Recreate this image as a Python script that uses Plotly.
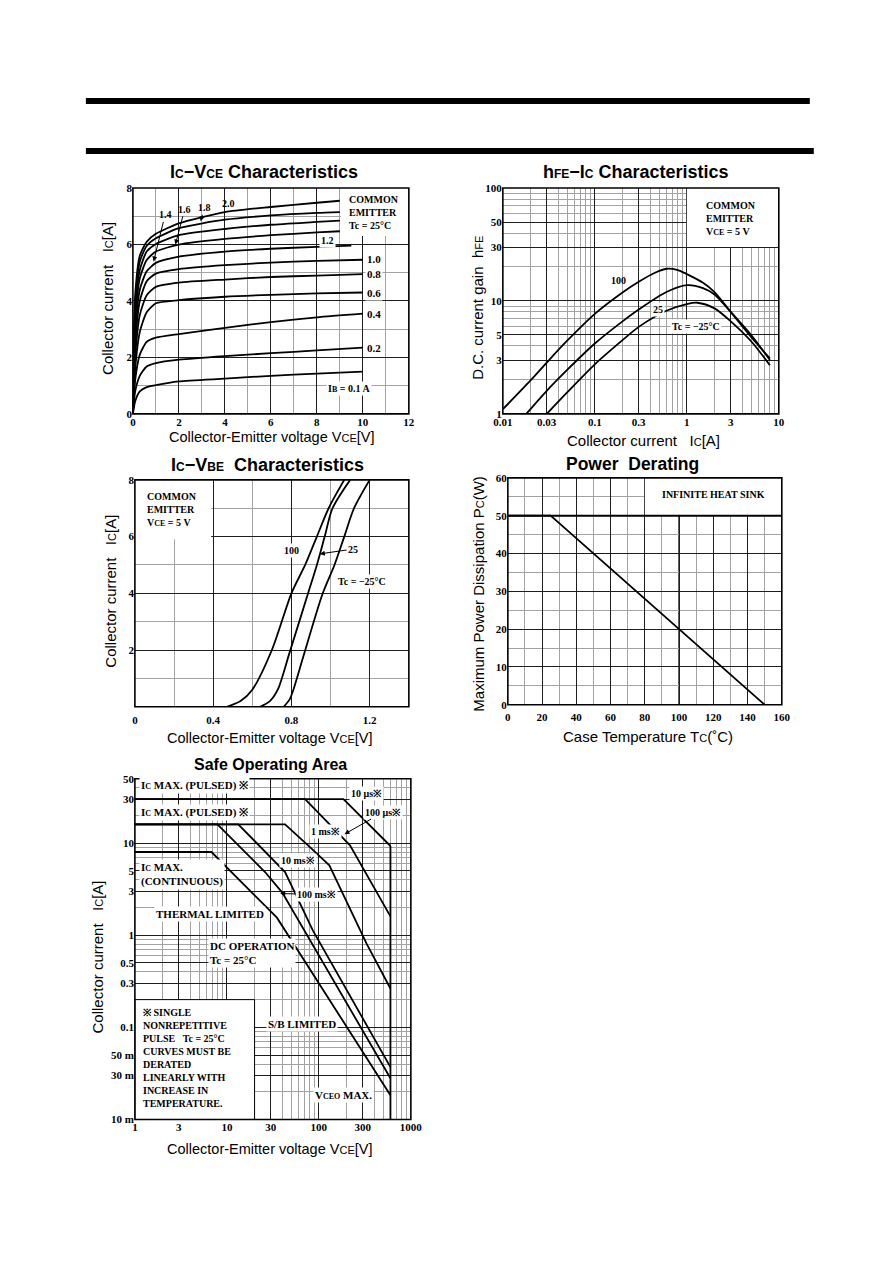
import math
import plotly.graph_objects as go

# the page body keeps its default 8px margin, so the figure is 16px smaller than the window
PAGE_W, PAGE_H, OFF = 892, 1263, 8
W, H = PAGE_W - 2 * OFF, PAGE_H - 2 * OFF
# the photographed picture comes out slightly scaled/shifted against the page:
# picture_x = 0.975 * page_x + 10.3, picture_y = 0.991 * page_y + 4.9
CAP_SX, CAP_BX, CAP_SY, CAP_BY = 0.975, 10.3, 0.991, 4.9
SERIF = 'Liberation Serif, Times New Roman, serif'
SANS = 'Liberation Sans, Arial, sans-serif'
INK = '#000000'
GRID = '#1e1e1e'
GRID_SOFT = '#a3a3a3'

# Ic-Vce characteristics, common emitter, Tc = 25°C
IB_STEPS = ['0.1', '0.2', '0.4', '0.6', '0.8', '1.0', '1.2', '1.4', '1.6', '1.8', '2.0']
VCE_PTS = [0, 0.1, 0.3, 0.6, 1, 2, 4, 6, 8]
IC_AT_VCE = [
    [0, 0.45, 0.80, 0.95, 1.02, 1.15, 1.25, 1.35, 1.43],
    [0, 0.80, 1.35, 1.68, 1.80, 1.92, 2.05, 2.15, 2.25],
    [0, 1.20, 2.10, 2.55, 2.70, 2.83, 3.05, 3.25, 3.42],
    [0, 1.60, 2.90, 3.60, 3.92, 4.03, 4.15, 4.22, 4.27],
    [0, 2.00, 3.50, 4.20, 4.50, 4.65, 4.76, 4.85, 4.90],
    [0, 2.40, 4.00, 4.70, 4.97, 5.13, 5.27, 5.36, 5.42],
    [0, 2.80, 4.40, 5.05, 5.35, 5.57, 5.75, 5.85, 5.92],
    [0, 3.20, 4.80, 5.45, 5.75, 6.00, 6.20, 6.33, 6.43],
    [0, 3.60, 5.10, 5.75, 6.02, 6.33, 6.55, 6.70, 6.80],
    [0, 3.90, 5.40, 5.95, 6.22, 6.58, 6.88, 7.03, 7.12],
    [0, 4.20, 5.60, 6.10, 6.38, 6.75, 7.15, 7.33, 7.48],
]
VCE_END = [10, 10, 10, 10, 10, 10, 9.5, 9, 9, 9, 9]
IC_END = [1.50, 2.35, 3.55, 4.30, 4.95, 5.46, 5.96, 6.47, 6.85, 7.15, 7.55]

# hFE-Ic characteristics, VCE = 5 V
HFE_TEMPS = ['100', '25', '-25']
HFE_IC = [
    [0.01, 0.02, 0.03, 0.05, 0.1, 0.2, 0.3, 0.45, 0.6, 0.8, 1, 1.5, 2, 3, 5, 8],
    [0.018, 0.03, 0.05, 0.1, 0.2, 0.3, 0.6, 1, 1.5, 2, 3, 5, 8],
    [0.03, 0.05, 0.1, 0.2, 0.3, 0.6, 1, 1.3, 2, 3, 5, 8],
]
HFE_VAL = [
    [1.1, 1.98, 2.85, 4.45, 7.7, 11.9, 14.8, 17.8, 19.3, 18.8, 17.3, 14.5, 12.0, 8.0, 4.8, 3.1],
    [1.0, 1.6, 2.45, 4.2, 6.6, 8.4, 12.0, 13.8, 13.0, 11.4, 8.0, 5.0, 3.0],
    [1.0, 1.55, 2.75, 4.5, 5.9, 8.2, 9.4, 9.65, 8.6, 6.6, 4.4, 2.7],
]

# Ic-Vbe characteristics, VCE = 5 V
VBE_TEMPS = ['100', '25', '-25']
VBE_V = [
    [0.47, 0.54, 0.60, 0.70, 0.80, 0.87, 0.93, 0.99, 1.07],
    [0.64, 0.69, 0.73, 0.79, 0.885, 0.93, 0.97, 1.01, 1.10],
    [0.76, 0.79, 0.81, 0.86, 0.96, 1.02, 1.07, 1.12, 1.20],
]
VBE_IC = [
    [0, 0.2, 0.6, 2.0, 4.0, 5.0, 6.0, 7.0, 8.0],
    [0, 0.2, 0.6, 1.9, 4.0, 5.0, 6.0, 7.0, 8.0],
    [0, 0.25, 0.6, 1.75, 4.0, 5.0, 6.0, 7.0, 8.0],
]

# Power derating, infinite heat sink
TC_PTS = [0, 25, 150]
PC_PTS = [50, 50, 0]

# Safe operating area
SOA_NAMES = ['DC', '100 ms', '10 ms', '1 ms', '100 us', '10 us']
SOA_V = [
    [1, 6.8, 35, 600],
    [1, 7.9, 26, 40, 600],
    [1, 13.3, 42.9, 86, 600],
    [1, 42.9, 80, 130, 330, 600],
    [1, 70.8, 218, 600],
    [1, 185, 600],
]
SOA_I = [
    [8, 8, 1.55, 0.0183],
    [16, 16, 4.85, 2.9, 0.028],
    [16, 16, 4.85, 1.13, 0.037],
    [16, 16, 9.06, 5.73, 0.81, 0.264],
    [30, 30, 9.45, 1.6],
    [30, 30, 9.3],
]
VCEO_MAX = 600


def fx(r):
    # picture pixel -> paper fraction
    return ((r - CAP_BX) / CAP_SX - OFF) / W


def fy(r):
    return 1 - ((r - CAP_BY) / CAP_SY - OFF) / H


def dom_x(a, b):
    return [fx(a), fx(b)]


def dom_y(top, bottom):
    return [fy(bottom), fy(top)]


def log_grid(lo, hi):
    return [m * 10 ** e for e in range(lo, hi) for m in range(1, 10)] + [10 ** hi]


def axis(dom, rng, vals, text, minor, anchor, log=False):
    return dict(domain=dom, range=rng, type='log' if log else 'linear', anchor=anchor,
                tickvals=vals, ticktext=text, ticks='', showline=False, zeroline=False,
                showgrid=True, gridcolor=GRID, gridwidth=1,
                tickfont=dict(family=SERIF, size=11, color=INK, weight='bold'),
                minor=dict(tickvals=minor, showgrid=True, gridcolor=GRID_SOFT, gridwidth=1.2))


def sfx(n):
    return '' if n == 1 else str(n)


def note(n, text, x, y, size=10, **kw):
    s = sfx(n)
    d = dict(text=text, x=x, y=y, xref='x' + s, yref='y' + s, showarrow=False,
             font=dict(family=SERIF, size=size, color=INK, weight='bold'))
    if 'ax' in kw:
        d.update(showarrow=True, axref='x' + s, ayref='y' + s, arrowhead=2, arrowsize=1,
                 arrowwidth=1, arrowcolor=INK)
    d.update(kw)
    return d


def paper_text(text, xp, yp, size=14, bold=False, angle=0, family=SANS):
    return dict(text=text, x=fx(xp), y=fy(yp), xref='paper', yref='paper',
                showarrow=False, textangle=angle, xanchor='center', yanchor='middle',
                font=dict(family=family, size=size, color=INK, weight='bold' if bold else 'normal'))


def paper_bar(x0, x1, top, bottom):
    return dict(type='rect', xref='paper', yref='paper', x0=fx(x0), x1=fx(x1),
                y0=fy(bottom), y1=fy(top), fillcolor=INK, line=dict(width=0))


def white_box(n, x0, x1, y0, y1, line=0):
    s = sfx(n)
    return dict(type='rect', xref='x' + s, yref='y' + s, x0=x0, x1=x1, y0=y0, y1=y1,
                fillcolor='white', line=dict(color=INK, width=line), layer='above')


def frame(n):
    s = sfx(n)
    return dict(type='rect', xref='x' + s + ' domain', yref='y' + s + ' domain',
                x0=0, x1=1, y0=0, y1=1, line=dict(color=INK, width=1.6), layer='above')


fig = go.Figure()
curve = dict(color=INK, width=1.8)

for i, ib in enumerate(IB_STEPS):
    fig.add_trace(go.Scatter(x=VCE_PTS + [VCE_END[i]], y=IC_AT_VCE[i] + [IC_END[i]], mode='lines',
                             line=dict(shape='spline', smoothing=0.6, **curve), name='IB ' + ib,
                             xaxis='x', yaxis='y', showlegend=False))
for i, t in enumerate(HFE_TEMPS):
    fig.add_trace(go.Scatter(x=HFE_IC[i], y=HFE_VAL[i], mode='lines',
                             line=dict(shape='spline', smoothing=0.8, **curve), name=t,
                             xaxis='x2', yaxis='y2', showlegend=False))
for i, t in enumerate(VBE_TEMPS):
    fig.add_trace(go.Scatter(x=VBE_V[i], y=VBE_IC[i], mode='lines',
                             line=dict(shape='spline', smoothing=0.8, **curve), name=t,
                             xaxis='x3', yaxis='y3', showlegend=False))
fig.add_trace(go.Scatter(x=TC_PTS, y=PC_PTS, mode='lines', line=curve, name='Pc',
                         xaxis='x4', yaxis='y4', showlegend=False))
for i, nm in enumerate(SOA_NAMES):
    fig.add_trace(go.Scatter(x=SOA_V[i], y=SOA_I[i], mode='lines', line=curve, name=nm,
                             xaxis='x5', yaxis='y5', showlegend=False))
fig.add_trace(go.Scatter(x=[VCEO_MAX, VCEO_MAX], y=[SOA_I[-1][-1], 0.01], mode='lines', line=curve,
                         name='VCEO', xaxis='x5', yaxis='y5', showlegend=False))

lin = lambda a, b, st: [round(a + k * st, 6) for k in range(int(round((b - a) / st)) + 1)]

x2_lab = [0.01, 0.03, 0.1, 0.3, 1, 3, 10]
y2_lab = [1, 3, 5, 10, 30, 50, 100]
x5_lab = [1, 3, 10, 30, 100, 300, 1000]
y5_lab = [0.01, 0.03, 0.05, 0.1, 0.3, 0.5, 1, 3, 5, 10, 30, 50]
y5_txt = ['10 m', '30 m', '50 m', '0.1', '0.3', '0.5', '1', '3', '5', '10', '30', '50']

fig.update_layout(
    xaxis=axis(dom_x(133, 409), [0, 12], lin(0, 12, 2), [str(v) for v in range(0, 13, 2)],
               lin(1, 11, 2), 'y'),
    yaxis=axis(dom_y(187, 413), [0, 8], lin(0, 8, 2), [str(v) for v in range(0, 9, 2)],
               lin(1, 7, 2), 'x'),
    xaxis2=axis(dom_x(503, 779), [-2, 1], x2_lab, ['0.01', '0.03', '0.1', '0.3', '1', '3', '10'],
                [v for v in log_grid(-2, 1) if v not in x2_lab], 'y2', log=True),
    yaxis2=axis(dom_y(187, 413), [0, 2], y2_lab, [str(v) for v in y2_lab],
                [v for v in log_grid(0, 2) if v not in y2_lab], 'x2', log=True),
    xaxis3=axis(dom_x(135, 409), [0, 1.4], [0, 0.4, 0.8, 1.2], ['0', '0.4', '0.8', '1.2'],
                [0.2, 0.6, 1.0], 'y3'),
    yaxis3=axis(dom_y(479, 706), [0, 8], [2, 4, 6, 8], ['2', '4', '6', '8'], [1, 3, 5, 7], 'x3'),
    xaxis4=axis(dom_x(508, 782), [0, 160], lin(0, 160, 20), [str(v) for v in range(0, 161, 20)],
                lin(10, 150, 20), 'y4'),
    yaxis4=axis(dom_y(477, 704), [0, 60], lin(0, 60, 10), [str(v) for v in range(0, 61, 10)],
                lin(5, 55, 10), 'x4'),
    xaxis5=axis(dom_x(135, 411), [0, 3], x5_lab, [str(v) for v in x5_lab],
                [v for v in log_grid(0, 3) if v not in x5_lab], 'y5', log=True),
    yaxis5=axis(dom_y(778, 1119), [-2, math.log10(50)], y5_lab, y5_txt,
                [v for v in log_grid(-2, 2) if v not in y5_lab and v <= 50], 'x5', log=True),
)
fig.update_layout(xaxis3_ticklabelstandoff=5, xaxis4_ticklabelstandoff=4)

L = math.log10
mu = '\u03bc'
sub = lambda t: '<span style="font-size:8px">' + t + '</span>'
small = lambda t, s=10: '<span style="font-size:%dpx">%s</span>' % (s, t)

ann = [
    # page titles and axis titles
    paper_text('<b>I' + small('C', 12) + '\u2212V' + small('CE', 12) + ' Characteristics</b>', 264, 171, 18, True),
    paper_text('<b>h' + small('FE', 12) + '\u2212I' + small('C', 12) + ' Characteristics</b>', 636, 171, 18, True),
    paper_text('<b>I' + small('C', 12) + '\u2212V' + small('BE', 12) + '\u00a0\u00a0Characteristics</b>',
               268, 464, 18, True),
    paper_text('<b>Power\u00a0 Derating</b>', 633, 463, 17.5, True),
    paper_text('<b>Safe Operating Area</b>', 271, 764, 16, True),
    paper_text('Collector current\u00a0\u00a0\u00a0I' + small('C', 11) + '[A]', 108, 297, 15, angle=-90),
    paper_text('Collector-Emitter voltage V' + small('CE', 11) + '[V]', 272, 436, 14.5),
    paper_text('D.C. current gain\u00a0\u00a0h' + small('FE', 11), 478, 307, 15, angle=-90),
    paper_text('Collector current\u00a0\u00a0\u00a0I' + small('C', 11) + '[A]', 644, 440, 15),
    paper_text('Collector current\u00a0\u00a0\u00a0I' + small('C', 11) + '[A]', 111, 590, 15, angle=-90),
    paper_text('Collector-Emitter voltage V' + small('CE', 11) + '[V]', 270, 737, 14.5),
    paper_text('Maximum Power Dissipation P' + small('C', 11) + '(W)', 479, 593, 15, angle=-90),
    paper_text('Case Temperature T' + small('C', 11) + '(\u02daC)', 648, 736, 15),
    paper_text('Collector current\u00a0\u00a0\u00a0I' + small('C', 11) + '[A]', 98, 956, 15, angle=-90),
    paper_text('Collector-Emitter voltage V' + small('CE', 11) + '[V]', 270, 1149, 14.5),

    # Ic-Vce
    note(1, 'COMMON<br>EMITTER<br>Tc = 25\u00b0C', 9.3, 7.15, xanchor='left', align='left'),
    note(1, '1.4', 0.9, 5.4, ax=1.4, ay=7.05),
    note(1, '1.6', 1.85, 6.0, ax=2.25, ay=7.25),
    note(1, '1.8', 2.95, 6.82, ax=3.1, ay=7.3),
    note(1, '2.0', 4.15, 7.45),
    note(1, '1.2', 8.45, 6.15, bgcolor='white'),
    note(1, 'I' + sub('B') + ' = 0.1 A', 9.4, 0.9, bgcolor='white'),
]
for lab, yv in zip(IB_STEPS[1:6], [2.35, 3.55, 4.3, 4.95, 5.48]):
    ann.append(note(1, lab, 10.5, yv, size=11, bgcolor='white'))

ann += [
    # hFE-Ic
    note(2, 'COMMON<br>EMITTER<br>V' + sub('CE') + ' = 5 V', L(1.55), L(54), xanchor='left', align='left'),
    note(2, '100', L(0.18), L(15.2)),
    note(2, '25', L(0.48), L(8.4), bgcolor='white'),
    note(2, 'Tc = \u221225\u00b0C', L(1.25), L(5.9), bgcolor='white'),

    # Ic-Vbe
    note(3, 'COMMON<br>EMITTER<br>V' + sub('CE') + ' = 5 V', 0.05, 6.97, xanchor='left', align='left'),
    note(3, '100', 0.8, 5.5, bgcolor='white'),
    note(3, '25', 0.945, 5.39, ax=1.115, ay=5.56),
    note(3, 'Tc = \u221225\u00b0C', 1.16, 4.42, bgcolor='white'),

    # Power derating
    note(4, 'INFINITE HEAT SINK', 120, 55.5),

    # SOA
    note(5, 'I' + sub('C') + ' MAX. (PULSED) \u203b', L(1.1), L(42), size=11, xanchor='left', bgcolor='white'),
    note(5, 'I' + sub('C') + ' MAX. (PULSED) \u203b', L(1.1), L(21.5), size=11, xanchor='left', bgcolor='white'),
    note(5, 'I' + sub('C') + ' MAX.<br>(CONTINUOUS)', L(1.1), L(4.6), size=11, xanchor='left', align='left',
         bgcolor='white'),
    note(5, 'THERMAL LIMITED', L(6.55), L(1.71), size=11, bgcolor='white'),
    note(5, 'DC OPERATION<br>Tc = 25\u00b0C', L(6.2), L(0.64), size=11, xanchor='left', align='left',
         bgcolor='white'),
    note(5, 'S/B LIMITED', L(64.8), L(0.108), size=11, bgcolor='white'),
    note(5, 'V' + sub('CEO') + ' MAX.', L(183), L(0.0185), size=11, bgcolor='white'),
    note(5, '10 ' + mu + 's\u203b', L(332), L(34.8), bgcolor='white'),
    note(5, '100 ' + mu + 's\u203b', L(190), L(12.5), ax=L(503), ay=L(21.7), bgcolor='white'),
    note(5, '1 ms\u203b', L(117), L(13.2), bgcolor='white'),
    note(5, '10 ms\u203b', L(59.8), L(6.5), bgcolor='white'),
    note(5, '100 ms\u203b', L(38), L(2.83), ax=L(95), ay=L(2.78), bgcolor='white'),
    note(5, '\u203b SINGLE<br>NONREPETITIVE<br>PULSE\u00a0\u00a0\u00a0Tc = 25\u00b0C<br>CURVES MUST BE<br>'
            'DERATED<br>LINEARLY WITH<br>INCREASE IN<br>TEMPERATURE.', L(1.18), L(0.047),
         xanchor='left', align='left'),
]

shapes = [
    paper_bar(86, 810, 97, 103),
    paper_bar(86, 814, 147, 153),
    white_box(1, 9.05, 12, 6.3, 8),
    white_box(2, 1, 10, 30, 100),
    white_box(3, 0, 0.39, 5.9, 8),
    white_box(4, 80, 160, 50, 60),
    white_box(5, 1, 20, 0.01, 0.2, line=1),
    dict(type='line', xref='x4', yref='y4', x0=0, x1=160, y0=50, y1=50, line=dict(color=INK, width=2), layer='above'),
    dict(type='line', xref='x4', yref='y4', x0=100, x1=100, y0=0, y1=50, line=dict(color=INK, width=1.4), layer='below'),
]
shapes += [frame(n) for n in range(1, 6)]

fig.update_layout(width=W, height=H, autosize=False, margin=dict(l=0, r=0, t=0, b=0),
                  paper_bgcolor='white', plot_bgcolor='white', showlegend=False,
                  annotations=ann, shapes=shapes)

fig.write_html('out.html', config={'displayModeBar': False})
